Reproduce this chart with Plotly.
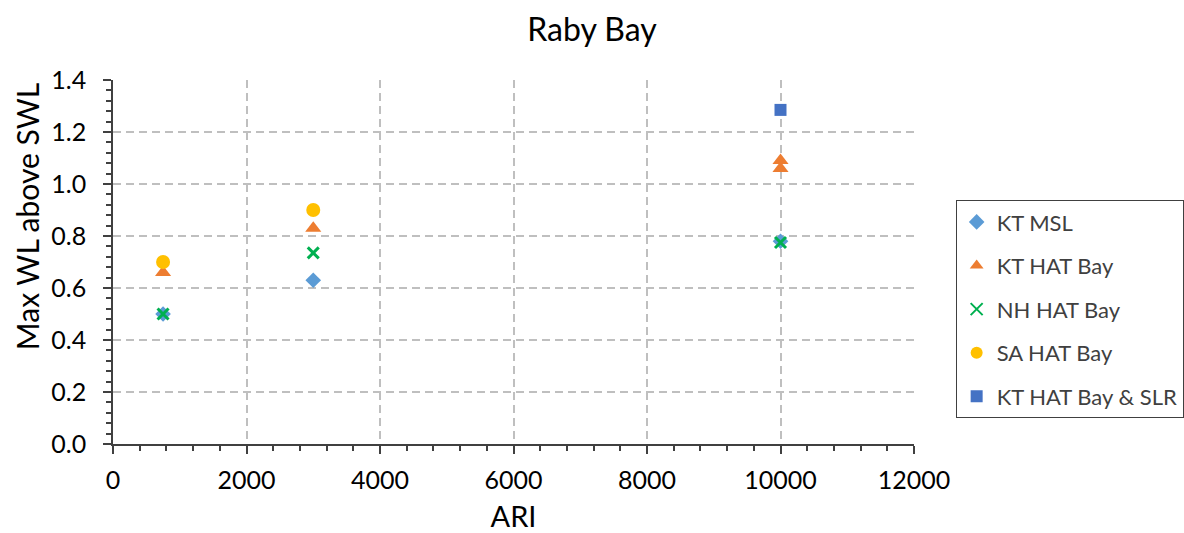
import plotly.graph_objects as go

# Average recurrence interval (years) for each scenario run
ari_kt_msl = [750, 3000, 10000]
wl_kt_msl = [0.50, 0.63, 0.78]

ari_kt_hat = [750, 3000, 10000, 10000]
wl_kt_hat = [0.66, 0.83, 1.06, 1.09]

ari_nh_hat = [750, 3000, 10000]
wl_nh_hat = [0.50, 0.735, 0.775]

ari_sa_hat = [750, 3000]
wl_sa_hat = [0.70, 0.90]

ari_kt_slr = [10000]
wl_kt_slr = [1.285]

FONT = "Lato"
GRID = "#bfbfbf"
AXIS = "#404040"

series = [
    ("KT MSL", ari_kt_msl, wl_kt_msl, dict(symbol="diamond", size=12, color="#5B9BD5")),
    ("KT HAT Bay", ari_kt_hat, wl_kt_hat, dict(symbol="triangle-up", size=14, color="#ED7D31")),
    ("NH HAT Bay", ari_nh_hat, wl_nh_hat,
     dict(symbol="x-thin-open", size=11, color="#00B050", line=dict(color="#00B050", width=3))),
    ("SA HAT Bay", ari_sa_hat, wl_sa_hat, dict(symbol="circle", size=14, color="#FFC000")),
    ("KT HAT Bay & SLR", ari_kt_slr, wl_kt_slr, dict(symbol="square", size=12, color="#4472C4")),
]

fig = go.Figure()
for name, xs, ys, marker in series:
    fig.add_trace(go.Scatter(
        x=xs, y=ys, mode="markers", name=name, legendgroup=name,
        marker=marker, cliponaxis=False,
    ))

fig.update_layout(
    width=1184, height=533,
    margin=dict(l=113, r=270, t=80, b=89, autoexpand=False),
    paper_bgcolor="white", plot_bgcolor="white",
    font=dict(family=FONT, size=25, color="#000000"),
    title=dict(text="Raby Bay", x=0.5, xref="container", xanchor="center",
               y=1 - 30 / 533, yref="container", yanchor="middle",
               font=dict(family=FONT, size=32, color="#000000")),
    showlegend=True,
    legend=dict(
        x=1.052, xanchor="left", y=0.670, yanchor="top",
        bordercolor="#404040", borderwidth=1, bgcolor="white",
        font=dict(family=FONT, size=22, color="#404040"),
        tracegroupgap=12, itemsizing="constant",
    ),
    # Value-axis title, placed beside the axis slightly above centre
    annotations=[dict(
        text="Max WL above SWL", textangle=-90,
        xref="paper", yref="paper", x=-0.107, y=0.624,
        xanchor="center", yanchor="middle", showarrow=False,
        font=dict(family=FONT, size=30, color="#000000"),
    )],
)

fig.update_xaxes(
    range=[0, 12000], dtick=2000, tick0=0, tickformat="d",
    showline=True, linecolor=AXIS, linewidth=1.5,
    ticks="outside", ticklen=8, tickcolor=AXIS, tickwidth=1.5,
    minor=dict(dtick=400, ticks="outside", ticklen=5, tickcolor=AXIS, showgrid=False),
    showgrid=True, gridcolor=GRID, gridwidth=1.5, griddash="8px,5px",
    zeroline=False, ticklabelstandoff=5,
    title=dict(text="ARI", font=dict(family=FONT, size=29), standoff=22),
    tickfont=dict(family=FONT, size=25),
)
fig.update_yaxes(
    range=[0, 1.4], dtick=0.2, tick0=0, tickformat=".1f",
    showline=True, linecolor=AXIS, linewidth=1.5,
    ticks="outside", ticklen=8, tickcolor=AXIS, tickwidth=1.5,
    minor=dict(dtick=0.04, ticks="outside", ticklen=5, tickcolor=AXIS, showgrid=False),
    showgrid=True, gridcolor=GRID, gridwidth=1.5, griddash="8px,5px",
    zeroline=False, ticklabelstandoff=12,
    tickfont=dict(family=FONT, size=25),
)

fig.write_html("out.html")
